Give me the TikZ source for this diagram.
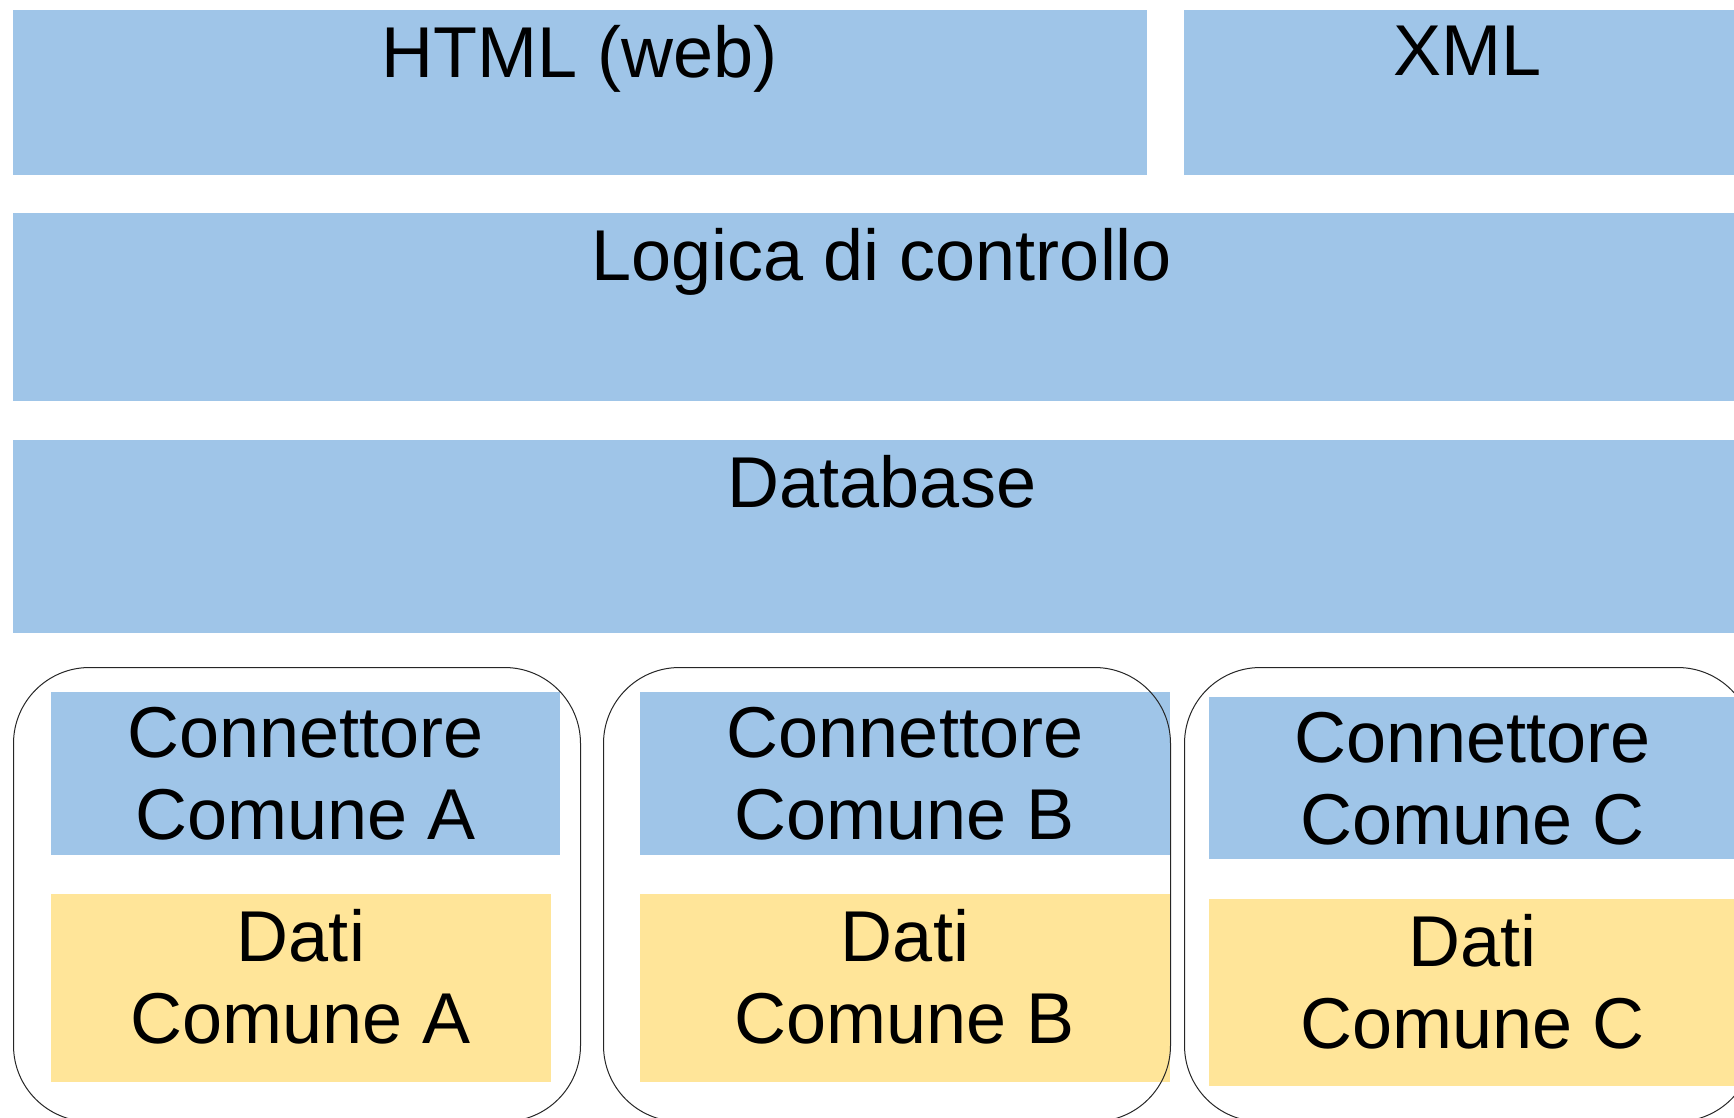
\documentclass[tikz,border=0pt]{standalone}
\usepackage{fontspec}
\setmainfont{Liberation Sans}
\definecolor{layerblue}{HTML}{9FC5E8}
\definecolor{datayellow}{HTML}{FFE599}
\tikzset{
  layer/.style={fill=layerblue, inner sep=0pt, outer sep=0pt, anchor=north west},
  store/.style={fill=datayellow, inner sep=0pt, outer sep=0pt, anchor=north west},
  comune/.style={draw=black!85, line width=1pt, rounded corners=76pt, inner sep=0pt, anchor=north west,
    minimum width=567pt, minimum height=454pt},
  caption/.style={anchor=north, inner sep=0pt, align=center, yshift=-15.5pt,
    font=\fontsize{72}{82}\selectfont},
}
\begin{document}
\begin{tikzpicture}[x=1pt, y=-1pt]
    \useasboundingbox (0,0) rectangle (1734,1117);

    % Draw upper layers
    \node[layer, minimum width=1134pt, minimum height=165pt] (html) at (13,10) {};
    \node[layer, minimum width=567pt, minimum height=165pt] (xml) at (1184,10) {};
    \node[layer, minimum width=1738pt, minimum height=188pt] (logic) at (13,213) {};
    \node[layer, minimum width=1738pt, minimum height=193pt] (db) at (13,440) {};

    \node[caption] (html-t) at (html.north) {HTML (web)};
    \node[caption] (xml-t) at (xml.north) {XML};
    \node[caption] (logic-t) at (logic.north) {Logica di controllo};
    \node[caption] (db-t) at (db.north) {Database};

    % Draw connectors and data of each comune
    \node[layer, minimum width=509pt, minimum height=163pt] (connA) at (51,692) {};
    \node[store, minimum width=500pt, minimum height=188pt] (datiA) at (51,894) {};
    \node[layer, minimum width=530pt, minimum height=163pt] (connB) at (640,692) {};
    \node[store, minimum width=530pt, minimum height=188pt] (datiB) at (640,894) {};
    \node[layer, minimum width=527pt, minimum height=162pt] (connC) at (1209,697) {};
    \node[store, minimum width=527pt, minimum height=187pt] (datiC) at (1209,899) {};

    \node[caption] (connA-t) at (connA.north) {Connettore\\Comune A};
    \node[caption] (datiA-t) at (datiA.north) {Dati\\Comune A};
    \node[caption] (connB-t) at (connB.north) {Connettore\\Comune B};
    \node[caption] (datiB-t) at (datiB.north) {Dati\\Comune B};
    \node[caption] (connC-t) at (connC.north) {Connettore\\Comune C};
    \node[caption] (datiC-t) at (datiC.north) {Dati\\Comune C};

    % Draw rounded frames
    \node[comune] (comuneA) at (13,667) {};
    \node[comune] (comuneB) at (603,667) {};
    \node[comune, minimum width=569pt] (comuneC) at (1184,667) {};
\end{tikzpicture}
\end{document}
